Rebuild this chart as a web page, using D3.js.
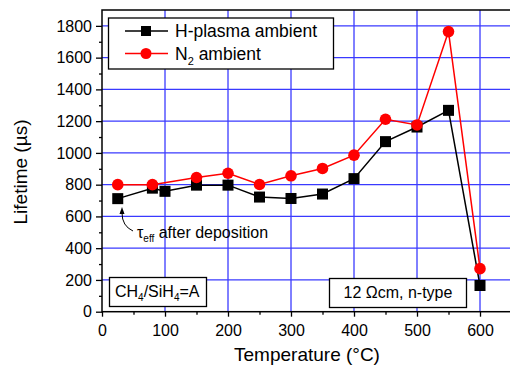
<!DOCTYPE html>
<html>
<head>
<meta charset="utf-8">
<script src="https://cdn.jsdelivr.net/npm/d3@7"></script>
<style>
  body { margin: 0; background: #fff; }
  svg { display: block; font-family: "Liberation Sans", Arial, sans-serif; }
</style>
</head>
<body>
<div id="chart"></div>
<script>
// data
var hTemps = [25, 80, 100, 150, 200, 250, 300, 350, 400, 450, 500, 550, 600];
var hLife  = [712, 778, 758, 797, 797, 722, 713, 741, 838, 1071, 1163, 1268, 165];
var nTemps = [25, 80, 150, 200, 250, 300, 350, 400, 450, 500, 550, 600];
var nLife  = [800, 800, 845, 872, 801, 856, 902, 986, 1212, 1176, 1764, 271];
var xTicks = [0, 100, 200, 300, 400, 500, 600];
var xMinor = [50, 150, 250, 350, 450, 550];
var yTicks = [0, 200, 400, 600, 800, 1000, 1200, 1400, 1600, 1800];
var yMinor = [100, 300, 500, 700, 900, 1100, 1300, 1500, 1700];

var width = 510, height = 367;
var margin = {top: 10, left: 102, bottom: 55.3, right: -1.5};

var svg = d3.select("#chart")
  .append("svg")
  .attr("width", width)
  .attr("height", height);

var x = d3.scaleLinear()
  .domain([0, 650])
  .range([margin.left, width - margin.right]);

var y = d3.scaleLinear()
  .domain([0, 1900])
  .range([height - margin.bottom, margin.top]);

// blue grid
svg.append("g")
  .selectAll("line")
  .data(xTicks.slice(1))
  .enter()
  .append("line")
  .attr("x1", d => x(d)).attr("x2", d => x(d))
  .attr("y1", y(0)).attr("y2", y(1900))
  .attr("stroke", "#0000ff")
  .attr("stroke-width", 1);

svg.append("g")
  .selectAll("line")
  .data(yTicks.slice(1))
  .enter()
  .append("line")
  .attr("x1", x(0)).attr("x2", x(650))
  .attr("y1", d => y(d)).attr("y2", d => y(d))
  .attr("stroke", "#3a3aff")
  .attr("stroke-width", 1.2);

// axes
var xAxis = svg.append("g")
  .attr("transform", "translate(0," + y(0) + ")")
  .call(d3.axisBottom(x).tickValues(xTicks).tickSize(5).tickPadding(4).tickFormat(d3.format("d")));
svg.append("g")
  .attr("transform", "translate(0," + y(0) + ")")
  .call(d3.axisBottom(x).tickValues(xMinor).tickSize(3).tickFormat(""));

var yAxis = svg.append("g")
  .attr("transform", "translate(" + x(0) + ",0)")
  .call(d3.axisLeft(y).tickValues(yTicks).tickSize(6).tickPadding(4).tickFormat(d3.format("d")));
svg.append("g")
  .attr("transform", "translate(" + x(0) + ",0)")
  .call(d3.axisLeft(y).tickValues(yMinor).tickSize(3).tickFormat(""));

svg.selectAll(".domain").remove();
svg.selectAll(".tick line").attr("stroke", "#000").attr("stroke-width", 1.3);
svg.selectAll(".tick text")
  .style("font-family", "'Liberation Sans', Arial, sans-serif")
  .style("font-size", "16px")
  .attr("fill", "#000");
xAxis.selectAll(".tick text").attr("dy", "0.95em");

// frame
svg.append("rect")
  .attr("x", x(0)).attr("y", y(1900))
  .attr("width", x(650) - x(0))
  .attr("height", y(0) - y(1900))
  .attr("fill", "none")
  .attr("stroke", "#000")
  .attr("stroke-width", 1.5);

// series
var line = d3.line()
  .x(d => x(d[0]))
  .y(d => y(d[1]));

var hData = d3.zip(hTemps, hLife);
var nData = d3.zip(nTemps, nLife);

svg.append("path")
  .datum(hData)
  .attr("d", line)
  .attr("fill", "none")
  .attr("stroke", "#000")
  .attr("stroke-width", 1.5);

svg.selectAll("rect.hpt")
  .data(hData)
  .enter()
  .append("rect")
  .attr("class", "hpt")
  .attr("x", d => x(d[0]) - 5.5)
  .attr("y", d => y(d[1]) - 5.5)
  .attr("width", 11)
  .attr("height", 11)
  .attr("fill", "#000");

svg.append("path")
  .datum(nData)
  .attr("d", line)
  .attr("fill", "none")
  .attr("stroke", "#ff0000")
  .attr("stroke-width", 1.5);

svg.selectAll("circle.npt")
  .data(nData)
  .enter()
  .append("circle")
  .attr("class", "npt")
  .attr("cx", d => x(d[0]))
  .attr("cy", d => y(d[1]))
  .attr("r", 5.8)
  .attr("fill", "#ff0000");

// axis titles
svg.append("text")
  .attr("x", 307)
  .attr("y", 361)
  .attr("text-anchor", "middle")
  .style("font-size", "19px")
  .text("Temperature (°C)");

svg.append("text")
  .attr("transform", "translate(26.5,172) rotate(-90)")
  .attr("text-anchor", "middle")
  .style("font-size", "19px")
  .text("Lifetime (µs)");

// legend
var leg = svg.append("g");
leg.append("rect")
  .attr("x", 108.5).attr("y", 18)
  .attr("width", 225).attr("height", 51)
  .attr("fill", "#fff")
  .attr("stroke", "#000")
  .attr("stroke-width", 1.3);

leg.append("line")
  .attr("x1", 125).attr("x2", 168).attr("y1", 31).attr("y2", 31)
  .attr("stroke", "#000").attr("stroke-width", 1.5);
leg.append("rect")
  .attr("x", 141).attr("y", 26).attr("width", 10).attr("height", 10)
  .attr("fill", "#000");
leg.append("text")
  .attr("x", 175).attr("y", 37)
  .style("font-size", "17.5px")
  .text("H-plasma ambient");

leg.append("line")
  .attr("x1", 125).attr("x2", 168).attr("y1", 53.5).attr("y2", 53.5)
  .attr("stroke", "#ff0000").attr("stroke-width", 1.5);
leg.append("circle")
  .attr("cx", 146).attr("cy", 53.5).attr("r", 5.5)
  .attr("fill", "#ff0000");
var n2 = leg.append("text")
  .attr("x", 175).attr("y", 59.5)
  .style("font-size", "17.5px");
n2.append("tspan").text("N");
n2.append("tspan").attr("dy", 5).style("font-size", "11px").text("2");
n2.append("tspan").attr("dy", -5).text(" ambient");

// annotation with curved arrow
svg.append("path")
  .attr("d", "M133,231 Q122,226 122,213")
  .attr("fill", "none")
  .attr("stroke", "#000")
  .attr("stroke-width", 1);
svg.append("path")
  .attr("d", "M122,207 L119.5,214 L124.5,214 Z")
  .attr("fill", "#000");

var ann = svg.append("text")
  .attr("x", 137).attr("y", 238)
  .style("font-size", "16px");
ann.append("tspan").text("τ");
ann.append("tspan").attr("dy", 4).style("font-size", "10px").text("eff");
ann.append("tspan").attr("dy", -4).text(" after deposition");

// boxes at the bottom
svg.append("rect")
  .attr("x", 109.5).attr("y", 277.5)
  .attr("width", 97).attr("height", 29)
  .attr("fill", "#fff")
  .attr("stroke", "#000")
  .attr("stroke-width", 1.3);
var ch = svg.append("text")
  .attr("x", 115).attr("y", 297)
  .style("font-size", "16px");
ch.append("tspan").text("CH");
ch.append("tspan").attr("dy", 4).style("font-size", "10px").text("4");
ch.append("tspan").attr("dy", -4).text("/SiH");
ch.append("tspan").attr("dy", 4).style("font-size", "10px").text("4");
ch.append("tspan").attr("dy", -4).text("=A");

svg.append("rect")
  .attr("x", 329.5).attr("y", 278.5)
  .attr("width", 137).attr("height", 29)
  .attr("fill", "#fff")
  .attr("stroke", "#000")
  .attr("stroke-width", 1.3);
svg.append("text")
  .attr("x", 343.5).attr("y", 298)
  .style("font-size", "16px")
  .text("12 Ωcm, n-type");
</script>
</body>
</html>
